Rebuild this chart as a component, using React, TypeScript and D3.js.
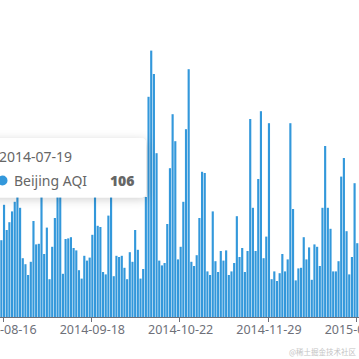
import React from "react";
import * as d3 from "d3";

// ---- data ----
const startDate = "2014-08-15";
const endDate = "2015-01-02";
const missingDates = ["2014-10-05", "2014-11-02", "2014-11-08", "2014-11-14", "2014-11-20", "2014-11-24"];
const aqiValues = [
  128, 187, 145, 158, 176, 192, 225, 182, 98, 88,
  70, 92, 160, 121, 122, 240, 105, 149, 63, 117,
  165, 230, 215, 72, 130, 131, 133, 115, 111, 78,
  64, 102, 94, 99, 137, 220, 152, 150, 75, 71,
  169, 235, 68, 102, 100, 102, 82, 63, 108, 92,
  145, 112, 64, 80, 200, 367, 444, 405, 273, 94,
  86, 90, 155, 248, 338, 293, 96, 117, 192, 313,
  413, 92, 85, 103, 165, 242, 240, 76, 70, 176,
  93, 75, 110, 94, 111, 70, 76, 90, 168, 100,
  115, 75, 110, 330, 182, 110, 230, 343, 98, 134,
  323, 63, 76, 60, 73, 105, 76, 96, 323, 180,
  61, 81, 82, 133, 96, 116, 62, 121, 117, 85,
  182, 285, 182, 147, 76, 76, 93, 234, 265, 143,
  71, 100, 223, 123,
];
const tickLabels = ["2014-08-16", "2014-09-18", "2014-10-22", "2014-11-29", "2015-01-01"];
const tooltipDate = "2014-07-19";
const tooltipSeries = "Beijing AQI";
const tooltipValue = 106;
const watermark = "@稀土掘金技术社区";

const fmt = d3.timeFormat("%Y-%m-%d");
const parse = d3.timeParse("%Y-%m-%d");
const categories = d3.timeDay
  .range(parse(startDate)!, d3.timeDay.offset(parse(endDate)!, 1))
  .map(fmt)
  .filter((d) => !missingDates.includes(d))
  .slice(0, aqiValues.length);

const W = 359;
const H = 359;
const baseY = 317;
const FONT = "'Noto Sans', 'DejaVu Sans', sans-serif";

export default function App() {
  const step = 2.676;
  const x = d3
    .scaleBand<string>()
    .domain(categories)
    .range([0.02, 0.02 + categories.length * step])
    .paddingInner(0.2)
    .paddingOuter(0.1);
  const y = d3.scaleLinear().domain([0, 500]).range([baseY, 17]);
  const realStep = x.step();
  const boundary = (c: string) => (x(c) ?? 0) - realStep * 0.1;

  return (
    <svg
      width={W}
      height={H}
      style={{ position: "absolute", left: 0, top: 0, background: "#fff" }}
    >
      <defs>
        <filter id="shadow" x="-20%" y="-40%" width="140%" height="180%">
          <feDropShadow dx="1" dy="2" stdDeviation="5" floodColor="#000" floodOpacity="0.18" />
        </filter>
      </defs>
      <g>
        {categories.map((c, i) => (
          <rect
            key={c}
            x={x(c)}
            y={y(aqiValues[i])}
            width={x.bandwidth()}
            height={baseY - y(aqiValues[i])}
            fill="#3398DB"
          />
        ))}
      </g>
      <line x1={0} x2={W} y1={baseY + 0.5} y2={baseY + 0.5} stroke="#6E7079" strokeWidth={1} />
      {tickLabels.map((t) => {
        const idx = categories.indexOf(t);
        if (idx < 0) return null;
        const bx = Math.round(boundary(t)) + 0.5;
        const cx = (x(t) ?? 0) + x.bandwidth() / 2;
        return (
          <g key={t}>
            <line x1={bx} x2={bx} y1={baseY} y2={baseY + 5} stroke="#6E7079" />
            <text
              x={cx}
              y={334}
              textAnchor="middle"
              fontSize={12.5}
              fontFamily={FONT}
              fill="#6E7079"
            >
              {t}
            </text>
          </g>
        );
      })}
      {/* tooltip */}
      <g>
        <rect
          x={-14}
          y={138.5}
          width={159.5}
          height={58.5}
          rx={4}
          fill="#fff"
          stroke="#fff"
          filter="url(#shadow)"
        />
        <text x={-1} y={161.5} fontSize={14} fontFamily={FONT} fill="#666">
          {tooltipDate}
        </text>
        <circle cx={2.5} cy={180.5} r={5} fill="#3398DB" />
        <text x={14} y={185.5} fontSize={14} fontFamily={FONT} fill="#666">
          {tooltipSeries}
        </text>
        <text
          x={134.5}
          y={185.5}
          textAnchor="end"
          fontSize={14}
          fontWeight={900}
          fontFamily={FONT}
          fill="#666"
        >
          {tooltipValue}
        </text>
      </g>
      <text
        x={356}
        y={355}
        textAnchor="end"
        fontSize={7.5}
        fontFamily="'Noto Sans CJK SC', sans-serif"
        fill="#c4c4c4"
      >
        {watermark}
      </text>
    </svg>
  );
}
